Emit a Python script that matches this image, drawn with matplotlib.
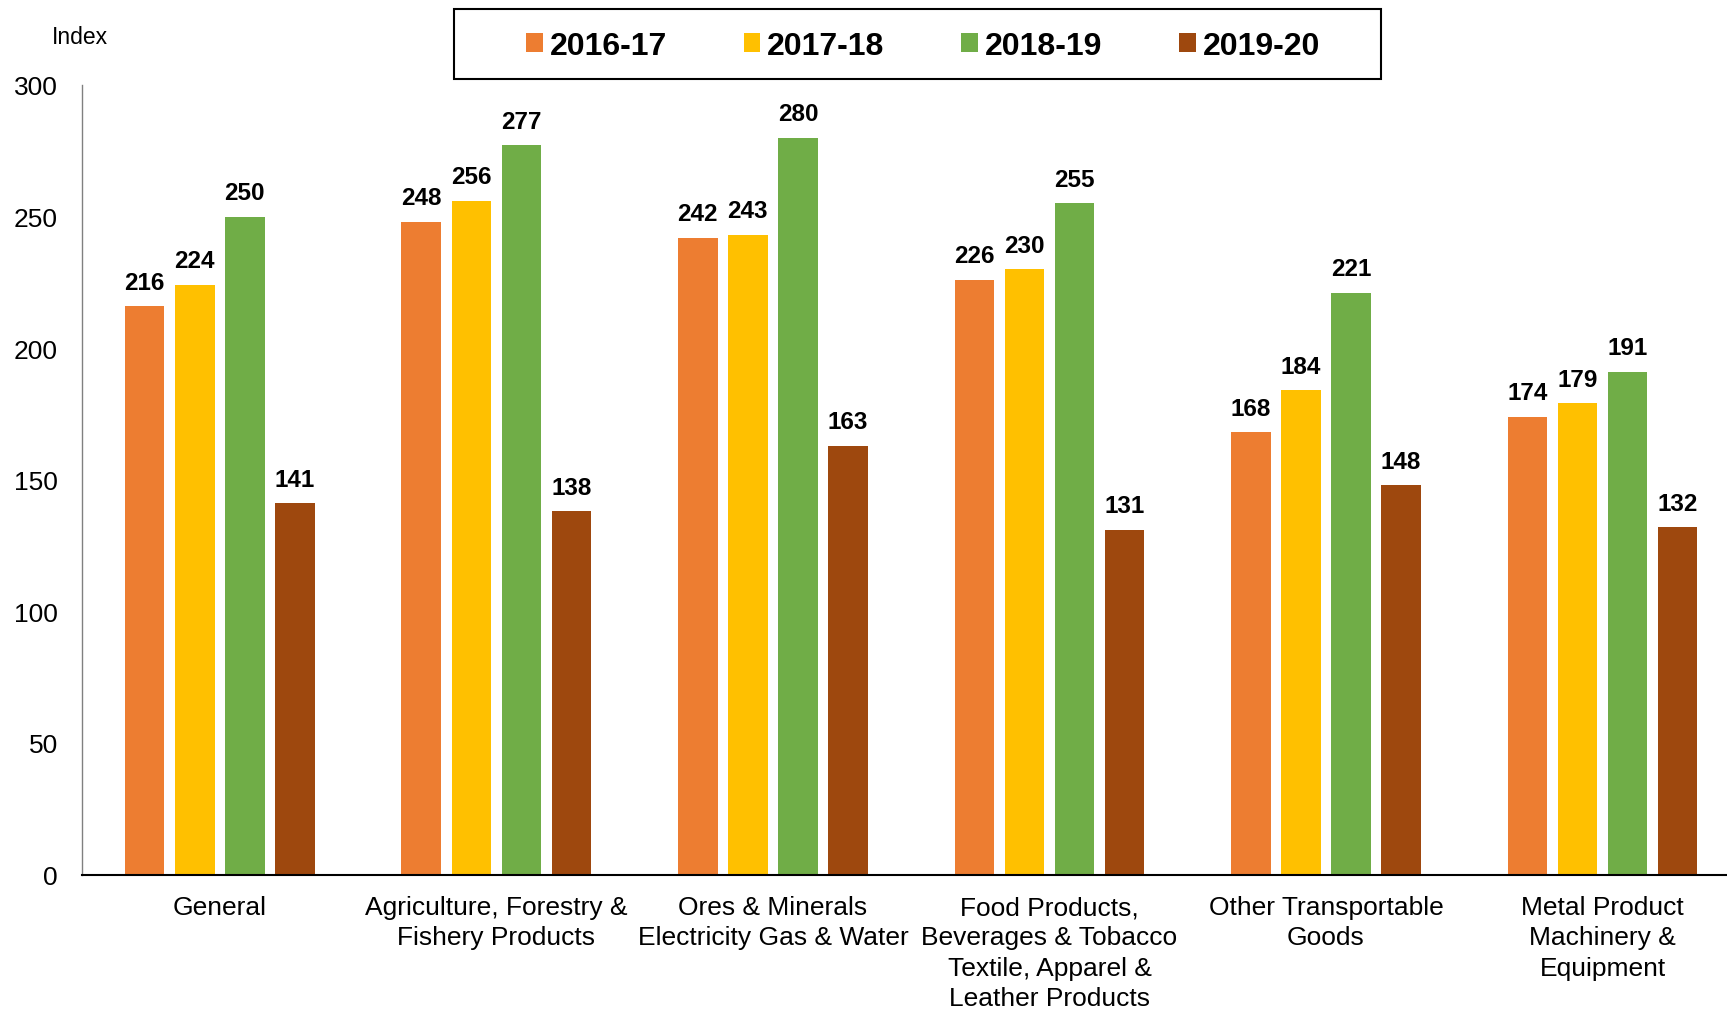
import matplotlib.pyplot as plt
import numpy as np
from matplotlib.patches import Rectangle

plt.rcParams["font.family"] = ["Liberation Sans", "DejaVu Sans"]

categories = [
    "General",
    "Agriculture, Forestry &\nFishery Products",
    "Ores & Minerals\nElectricity Gas & Water",
    "Food Products,\nBeverages & Tobacco\nTextile, Apparel &\nLeather Products",
    "Other Transportable\nGoods",
    "Metal Product\nMachinery &\nEquipment",
]
series = ["2016-17", "2017-18", "2018-19", "2019-20"]
v_2016_17 = [216, 248, 242, 226, 168, 174]
v_2017_18 = [224, 256, 243, 230, 184, 179]
v_2018_19 = [250, 277, 280, 255, 221, 191]
v_2019_20 = [141, 138, 163, 131, 148, 132]
valores = [v_2016_17, v_2017_18, v_2018_19, v_2019_20]
cores = ["#ED7D31", "#FFC000", "#70AD47", "#9E480E"]

fig = plt.figure(figsize=(17.27, 10.12), dpi=100)
ax = fig.add_axes([0.0472, 0.1348, 0.9528, 0.7803])

x = np.arange(len(categories))
passo = 0.181
largura = 0.143
for k, (nome, vals, cor) in enumerate(zip(series, valores, cores)):
    barras = ax.bar(x + (k - 1.5) * passo, vals, largura, color=cor, label=nome)
    ax.bar_label(barras, padding=9, fontsize=17.5, fontweight="bold")

ax.set_xlim(-0.5, 5.45)
ax.set_ylim(0, 300)
ax.set_yticks(range(0, 301, 50))
ax.set_xticks(x)
ax.set_xticklabels(categories, fontsize=19, linespacing=1.32)
ax.tick_params(axis="y", length=0, pad=17, labelsize=19)
ax.tick_params(axis="x", length=0, pad=15)

ax.spines["top"].set_visible(False)
ax.spines["right"].set_visible(False)
ax.spines["left"].set_color("#808080")
ax.spines["left"].set_linewidth(1.0)
ax.spines["bottom"].set_color("black")
ax.spines["bottom"].set_linewidth(1.5)

fig.text(0.030, 0.963, "Index", fontsize=16.5, va="center", ha="left")

# caixa da legenda
fig.add_artist(Rectangle((454 / 1727, 1 - 80 / 1012), 927 / 1727, 70 / 1012,
                         transform=fig.transFigure, facecolor="white",
                         edgecolor="black", linewidth=1.5))
fig.legend(loc="center", bbox_to_anchor=(923 / 1727, 1 - 47 / 1012), ncol=4,
           frameon=False, prop={"size": 23, "weight": "bold"},
           handlelength=0.52, handleheight=0.52, handletextpad=0.22,
           columnspacing=2.4)

fig.savefig("out.png")
